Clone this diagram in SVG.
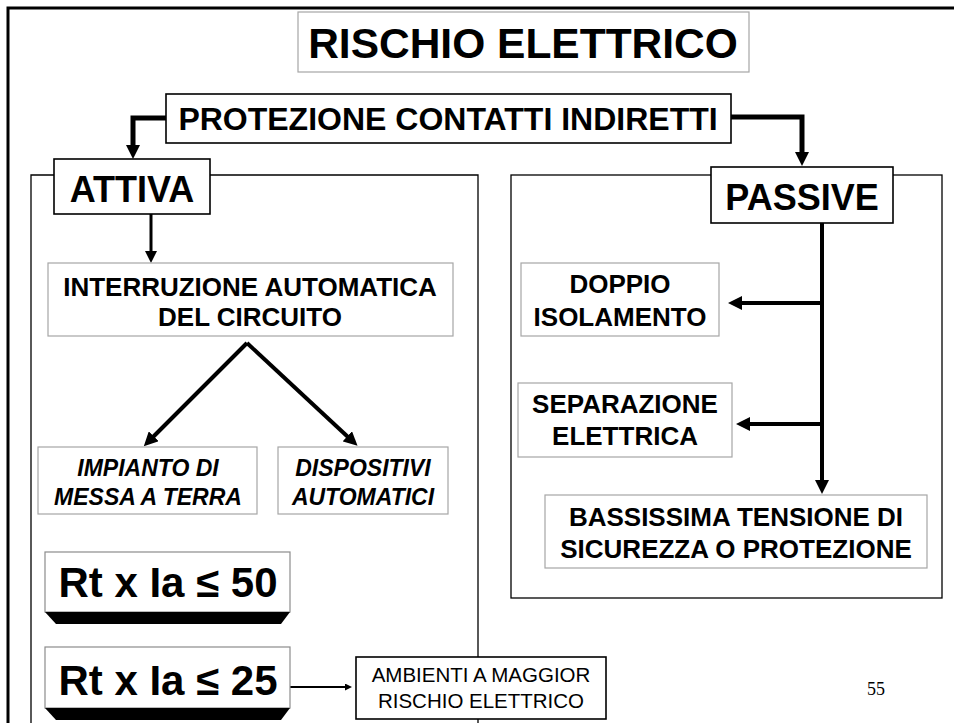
<svg xmlns="http://www.w3.org/2000/svg" width="954" height="723" viewBox="0 0 954 723">
<style>
.t{font-family:"Liberation Sans",Arial,sans-serif;font-weight:bold;fill:#000;text-anchor:middle}
.it{font-style:italic}
.reg{font-weight:normal}
.gb{fill:#fff;stroke:#a6a6a6;stroke-width:1.2}
.db{fill:#fff;stroke:#000;stroke-width:1.6}
.fr{fill:none;stroke:#000;stroke-width:1.3}
.c{fill:none;stroke:#000;stroke-linejoin:miter}
</style>
<defs>
<marker id="ah" markerUnits="userSpaceOnUse" markerWidth="14" markerHeight="14" viewBox="0 0 14 14" refX="1" refY="7" orient="auto"><path d="M0,0 L14,7 L0,14 z" fill="#000"/></marker>
<marker id="am" markerUnits="userSpaceOnUse" markerWidth="12" markerHeight="12" viewBox="0 0 12 12" refX="1" refY="6" orient="auto"><path d="M0,0 L12,6 L0,12 z" fill="#000"/></marker>
<marker id="as" markerUnits="userSpaceOnUse" markerWidth="7" markerHeight="7" viewBox="0 0 7 7" refX="1" refY="3.5" orient="auto"><path d="M0,0 L7,3.5 L0,7 z" fill="#000"/></marker>
</defs>
<rect x="0" y="0" width="954" height="723" fill="#fff"/>
<!-- outer frame -->
<path d="M8,730 L8,8 L960,8" fill="none" stroke="#000" stroke-width="3"/>
<!-- section frames -->
<g id="frame-attiva"><path class="fr" d="M31,723 L31,175 L478,175 L478,723"/></g>
<g id="frame-passive"><rect class="fr" x="511" y="175" width="431" height="423"/></g>

<g id="connectors">
<path class="c" stroke-width="5" d="M166,118 L133,118 L133,146" marker-end="url(#ah)"/>
<path class="c" stroke-width="5" d="M731,117 L802,117 L802,153" marker-end="url(#ah)"/>
<path class="c" stroke-width="3" d="M151,214 L151,252" marker-end="url(#am)"/>
<path class="c" stroke-width="4" d="M247,343 L153,437" marker-end="url(#ah)"/>
<path class="c" stroke-width="4" d="M247,343 L348,437" marker-end="url(#ah)"/>
<path class="c" stroke-width="4" d="M822,223 L822,481" marker-end="url(#ah)"/>
<path class="c" stroke-width="4" d="M822,303 L741,303" marker-end="url(#ah)"/>
<path class="c" stroke-width="4" d="M822,424 L749,424" marker-end="url(#ah)"/>
<path class="c" stroke-width="2" d="M290,687 L346,687" marker-end="url(#as)"/>
</g>

<g id="title"><rect class="gb" x="298" y="12" width="451" height="60"/><text class="t" x="523" y="58" font-size="42.5">RISCHIO ELETTRICO</text></g>
<g id="protezione"><rect class="db" x="166" y="94" width="565" height="49"/><text class="t" x="448" y="130" font-size="32">PROTEZIONE CONTATTI INDIRETTI</text></g>
<g id="attiva"><rect class="db" x="54" y="159" width="156" height="55" stroke-width="2"/><text class="t" x="132" y="202" font-size="36">ATTIVA</text></g>
<g id="passive"><rect class="db" x="711" y="167" width="182" height="56" stroke-width="2"/><text class="t" x="802" y="210" font-size="36">PASSIVE</text></g>
<g id="interruzione"><rect class="gb" x="48" y="263" width="405" height="73"/><text class="t" x="250" y="296" font-size="26">INTERRUZIONE AUTOMATICA</text><text class="t" x="250" y="326" font-size="26">DEL CIRCUITO</text></g>
<g id="impianto"><rect class="gb" x="38" y="447" width="219" height="67"/><text class="t it" x="148" y="476" font-size="23">IMPIANTO DI</text><text class="t it" x="148" y="505" font-size="23">MESSA A TERRA</text></g>
<g id="dispositivi"><rect class="gb" x="278" y="447" width="170" height="67"/><text class="t it" x="363" y="476" font-size="23">DISPOSITIVI</text><text class="t it" x="363" y="505" font-size="23">AUTOMATICI</text></g>
<g id="doppio"><rect class="gb" x="521" y="263" width="198" height="73"/><text class="t" x="620" y="293" font-size="26">DOPPIO</text><text class="t" x="620" y="326" font-size="26">ISOLAMENTO</text></g>
<g id="separazione"><rect class="gb" x="518" y="383" width="214" height="74"/><text class="t" x="625" y="413" font-size="26">SEPARAZIONE</text><text class="t" x="625" y="445" font-size="26">ELETTRICA</text></g>
<g id="bassissima"><rect class="gb" x="545" y="495" width="382" height="73"/><text class="t" x="736" y="526" font-size="26">BASSISSIMA TENSIONE DI</text><text class="t" x="736" y="558" font-size="26">SICUREZZA O PROTEZIONE</text></g>
<g id="rt50"><rect x="45" y="552" width="245" height="60" fill="#fff" stroke="#8c8c8c" stroke-width="1.2"/><polygon points="45,612 290,612 281,624 56,624" fill="#000"/><text class="t" x="168" y="597" font-size="42">Rt x Ia ≤ 50</text></g>
<g id="rt25"><rect x="45" y="647" width="245" height="61" fill="#fff" stroke="#8c8c8c" stroke-width="1.2"/><polygon points="45,708 290,708 281,720 56,720" fill="#000"/><text class="t" x="168" y="695" font-size="42">Rt x Ia ≤ 25</text></g>
<g id="ambienti"><rect class="db" x="356" y="657" width="250" height="62" stroke-width="1.3"/><text class="t reg" x="481" y="682" font-size="20.5">AMBIENTI A MAGGIOR</text><text class="t reg" x="481" y="708" font-size="20.5">RISCHIO ELETTRICO</text></g>
<text x="876" y="695" font-family="'Liberation Serif','Times New Roman',serif" font-size="18" text-anchor="middle">55</text>
</svg>
